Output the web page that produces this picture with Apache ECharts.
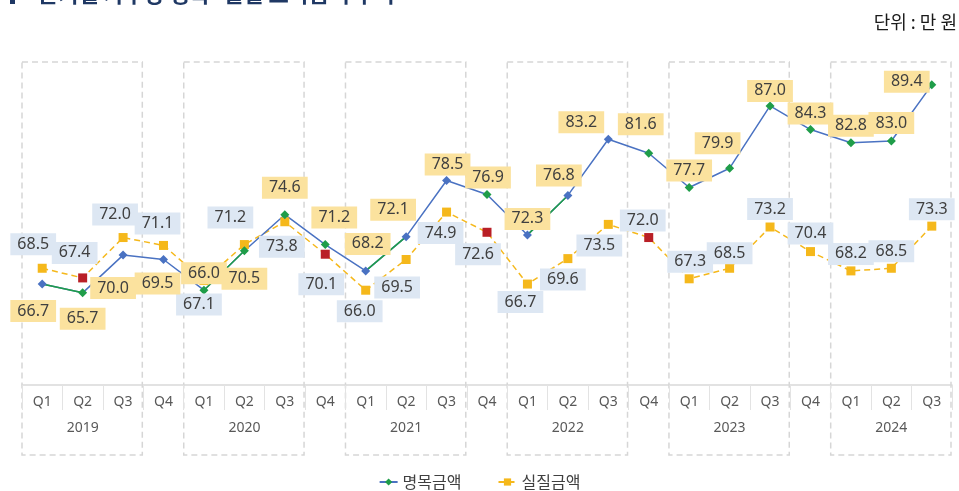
<!DOCTYPE html>
<html>
<head>
<meta charset="utf-8">
<script src="https://cdn.jsdelivr.net/npm/echarts@6/dist/echarts.min.js"></script>
<style>
html, body { margin: 0; padding: 0; background: #fff; }
#main { width: 959px; height: 491px; }
</style>
</head>
<body>
<div id="main"></div>
<script>
// data
const years = ['2019', '2020', '2021', '2022', '2023', '2024'];
const quarters = ['Q1', 'Q2', 'Q3', 'Q4'];
const nominal = [66.7, 65.7, 70.0, 69.5, 66.0, 70.5, 74.6, 71.2, 68.2, 72.1, 78.5, 76.9,
                 72.3, 76.8, 83.2, 81.6, 77.7, 79.9, 87.0, 84.3, 82.8, 83.0, 89.4];
const real = [68.5, 67.4, 72.0, 71.1, 67.1, 71.2, 73.8, 70.1, 66.0, 69.5, 74.9, 72.6,
              66.7, 69.6, 73.5, 72.0, 67.3, 68.5, 73.2, 70.4, 68.2, 68.5, 73.3];

// which points / segments are coloured differently
const nominalBlueIdx = [0, 2, 3, 8, 9, 10, 12, 13, 14];
const greenSegStart = [0, 4, 8, 12];
const realRedIdx = [1, 7, 11, 15];

// label shift from the point [dx, dy]
const nomLabelShift = [[-9, 27], [0, 26], [-10, 33], [-6, 24], [0, -17], [0, 28], [0, -27], [9, -27],
  [2, -27], [-13, -27], [1, -16], [1, -17], [0, -16], [-9, -20], [-27, -17], [-8, -29],
  [0, -17], [-12, -25], [0, -15], [0, -16], [0, -17], [0, -18], [-25, -3]];
const realLabelShift = [[-9, -24], [-8, -25], [-8, -23], [-6, -22], [-5, 24], [-14, -27], [-3, 25], [-4, 30],
  [-6, 21], [-9, 28], [-6, 21], [-9, 22], [-7, 18], [-5, 21], [-9, 21], [-6, -17],
  [1, -17], [0, -15], [0, -18], [0, -18], [0, -17], [0, -17], [0, -17]];

const BLUE = '#4a72c2', GREEN = '#1f9d49', GOLD = '#f5b81b', RED = '#b91f26';
const FONT = "'Noto Sans', 'Noto Sans CJK KR', sans-serif";

let categories = [];
nominal.forEach((v, i) => {
  categories.push(years[Math.floor(i / 4)] + '-' + quarters[i % 4]);
});

let nominalData = nominal.map((v, i) => ({
  value: v,
  itemStyle: { color: nominalBlueIdx.includes(i) ? BLUE : GREEN },
  label: { offset: nomLabelShift[i] }
}));
let realData = real.map((v, i) => ({
  value: v,
  itemStyle: { color: realRedIdx.includes(i) ? RED : GOLD },
  label: { offset: realLabelShift[i] }
}));
let greenData = nominal.map((v, i) =>
  greenSegStart.some(s => i === s || i === s + 1) ? v : '-');

let labelBase = {
  show: true,
  position: 'inside',
  formatter: p => p.value.toFixed(1),
  color: '#404040',
  fontSize: 16,
  fontFamily: FONT,
  padding: [3, 7]
};

let options = {
  animation: false,
  grid: { left: 22, right: 7, top: 62, bottom: 106 },
  legend: {
    top: 469,
    left: 'center',
    data: ['명목금액', '실질금액'],
    itemWidth: 18,
    itemHeight: 9,
    itemGap: 36,
    textStyle: { fontSize: 16, color: '#404040', fontFamily: "'Noto Sans CJK KR', sans-serif" }
  },
  xAxis: [{
    type: 'category',
    data: categories,
    axisLine: { lineStyle: { color: '#d9d9d9', width: 1.5 } },
    axisTick: { show: true, interval: 0, length: 25, lineStyle: { color: '#e3e3e3' } },
    axisLabel: {
      interval: 0, margin: 10, fontSize: 14, color: '#595959', fontFamily: FONT,
      formatter: v => v.split('-')[1]
    }
  }, {
    type: 'category',
    data: categories,
    position: 'bottom',
    offset: 25,
    axisLine: { show: false },
    axisTick: { show: false },
    axisLabel: {
      interval: 0, margin: 11, fontSize: 14, color: '#595959', fontFamily: FONT,
      formatter: (v, idx) => idx % 4 === 1 ? v.split('-')[0] : ''
    }
  }],
  yAxis: { type: 'value', min: 55.2, max: 92, show: false, splitLine: { show: false } },
  series: [{
    name: '실질금액',
    type: 'line',
    data: realData,
    symbol: 'rect',
    symbolSize: 9,
    lineStyle: { color: GOLD, width: 1.5, type: [6, 4] },
    itemStyle: { color: GOLD },
    label: Object.assign({}, labelBase, { backgroundColor: '#dde7f3' })
  }, {
    name: '명목금액',
    type: 'line',
    data: nominalData,
    symbol: 'diamond',
    symbolSize: 9,
    lineStyle: { color: BLUE, width: 1.5 },
    itemStyle: { color: GREEN },
    label: Object.assign({}, labelBase, { backgroundColor: '#fbe29e' })
  }, {
    name: 'green-seg',
    type: 'line',
    data: greenData,
    symbol: 'none',
    lineStyle: { color: GREEN, width: 1.5 },
    silent: true
  }]
};

let myChart = echarts.init(document.getElementById('main'));
myChart.setOption(options);

// dashed year boxes (Q1..Q3 of each year) + header texts
let c0 = myChart.convertToPixel({ xAxisIndex: 0 }, categories[0]);
let c1 = myChart.convertToPixel({ xAxisIndex: 0 }, categories[1]);
let half = (c1 - c0) / 2;
let graphics = [];
years.forEach((y, k) => {
  let first = myChart.convertToPixel({ xAxisIndex: 0 }, categories[k * 4]);
  let last = myChart.convertToPixel({ xAxisIndex: 0 }, categories[Math.min(k * 4 + 2, categories.length - 1)]);
  graphics.push({
    type: 'rect',
    shape: { x: first - half, y: 62, width: last - first + 2 * half - 1, height: 393 },
    style: { fill: 'none', stroke: '#d6d6d6', lineWidth: 1.5, lineDash: [6, 4] },
    silent: true,
    z: 0
  });
});
graphics.push({
  type: 'rect', shape: { x: 10, y: -10, width: 5, height: 14 },
  style: { fill: '#1f3864' }
});
graphics.push({
  type: 'text', x: 38, y: 5,
  style: {
    text: '분기별 가구당 명목·실질 소득금액 추이', fill: '#1f3864',
    font: "bold 22px 'Noto Sans CJK KR', sans-serif", textVerticalAlign: 'bottom'
  }
});
graphics.push({
  type: 'text', x: 957, y: 22,
  style: {
    text: '단위 : 만 원', fill: '#1a1a1a', align: 'right', verticalAlign: 'middle',
    font: "18px 'Noto Sans CJK KR', sans-serif"
  }
});
myChart.setOption({ graphic: graphics });
</script>
</body>
</html>
